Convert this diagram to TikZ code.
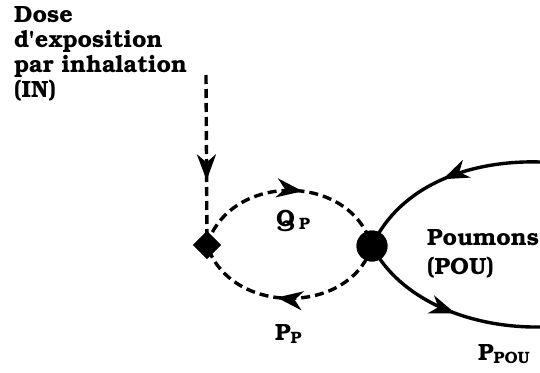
\documentclass[tikz,border=0pt]{standalone}
\usepackage[T1]{fontenc}
\usepackage{bookman}
\usetikzlibrary{arrows.meta,decorations.markings,shapes.geometric}

\tikzset{
  lbl/.style={font=\bfseries\fontsize{23.5}{24.7}\selectfont, inner sep=0pt, align=left},
  flux/.style={line width=3.4pt, dash pattern=on 9pt off 5pt},
  midarrow/.style={postaction={decorate,decoration={markings,
      mark=at position #1 with {\arrow{Stealth[length=26pt,width=19pt,inset=8pt]}}}}},
  jdiam/.style={diamond, fill=black, minimum size=28pt, inner sep=0pt},
  jdot/.style={circle, fill=black, minimum size=31pt, inner sep=0pt},
}

\begin{document}
\begin{tikzpicture}[x=1pt,y=-1pt]
      \useasboundingbox (0,0) rectangle (540,372);
      \begin{scope}
        \clip (0,0) rectangle (540,372);
        % nodes
        \coordinate (insrc) at (206,75);
        \node[jdiam] (inj) at (207,245) {};
        \node[jdot] (pouj) at (372,246) {};
        \coordinate (pouin) at (540,162);
        \coordinate (pouout) at (540,327);
        % connectors
        \draw[flux, midarrow=0.62] (insrc) -- (inj.center);
        \draw[flux, midarrow=0.56] (inj.center) .. controls (230,172) and (350,172) .. (pouj.center);
        \draw[flux, midarrow=0.56] (pouj.center) .. controls (350,316) and (230,316) .. (inj.center);
        \draw[line width=3.4pt, midarrow=0.5] (pouin) .. controls (470,160) and (400,185) .. (pouj.center);
        \draw[line width=3.4pt, midarrow=0.56] (pouj.center) .. controls (400,300) and (470,328) .. (pouout);
        \node[jdiam] at (inj) {};
        \node[jdot] at (pouj) {};
        % labels
        \node[lbl, anchor=base west] (dose) at (14,97) {Dose\\d\textquotesingle exposition\\par inhalation\\(IN)};
        \node[lbl, anchor=base west] (qp) at (276,226) {Q\kern4pt\textsubscript{P}};
        \node[lbl, anchor=base west] (pp) at (275,340) {P\textsubscript{P}};
        \node[lbl, anchor=base west, font=\bfseries\fontsize{23.5}{29}\selectfont] (pou) at (427,274) {Poumons\\(POU)};
        \node[lbl, anchor=base west] (ppou) at (478,360) {P\textsubscript{POU}};
      \end{scope}
    \end{tikzpicture}
\end{document}
